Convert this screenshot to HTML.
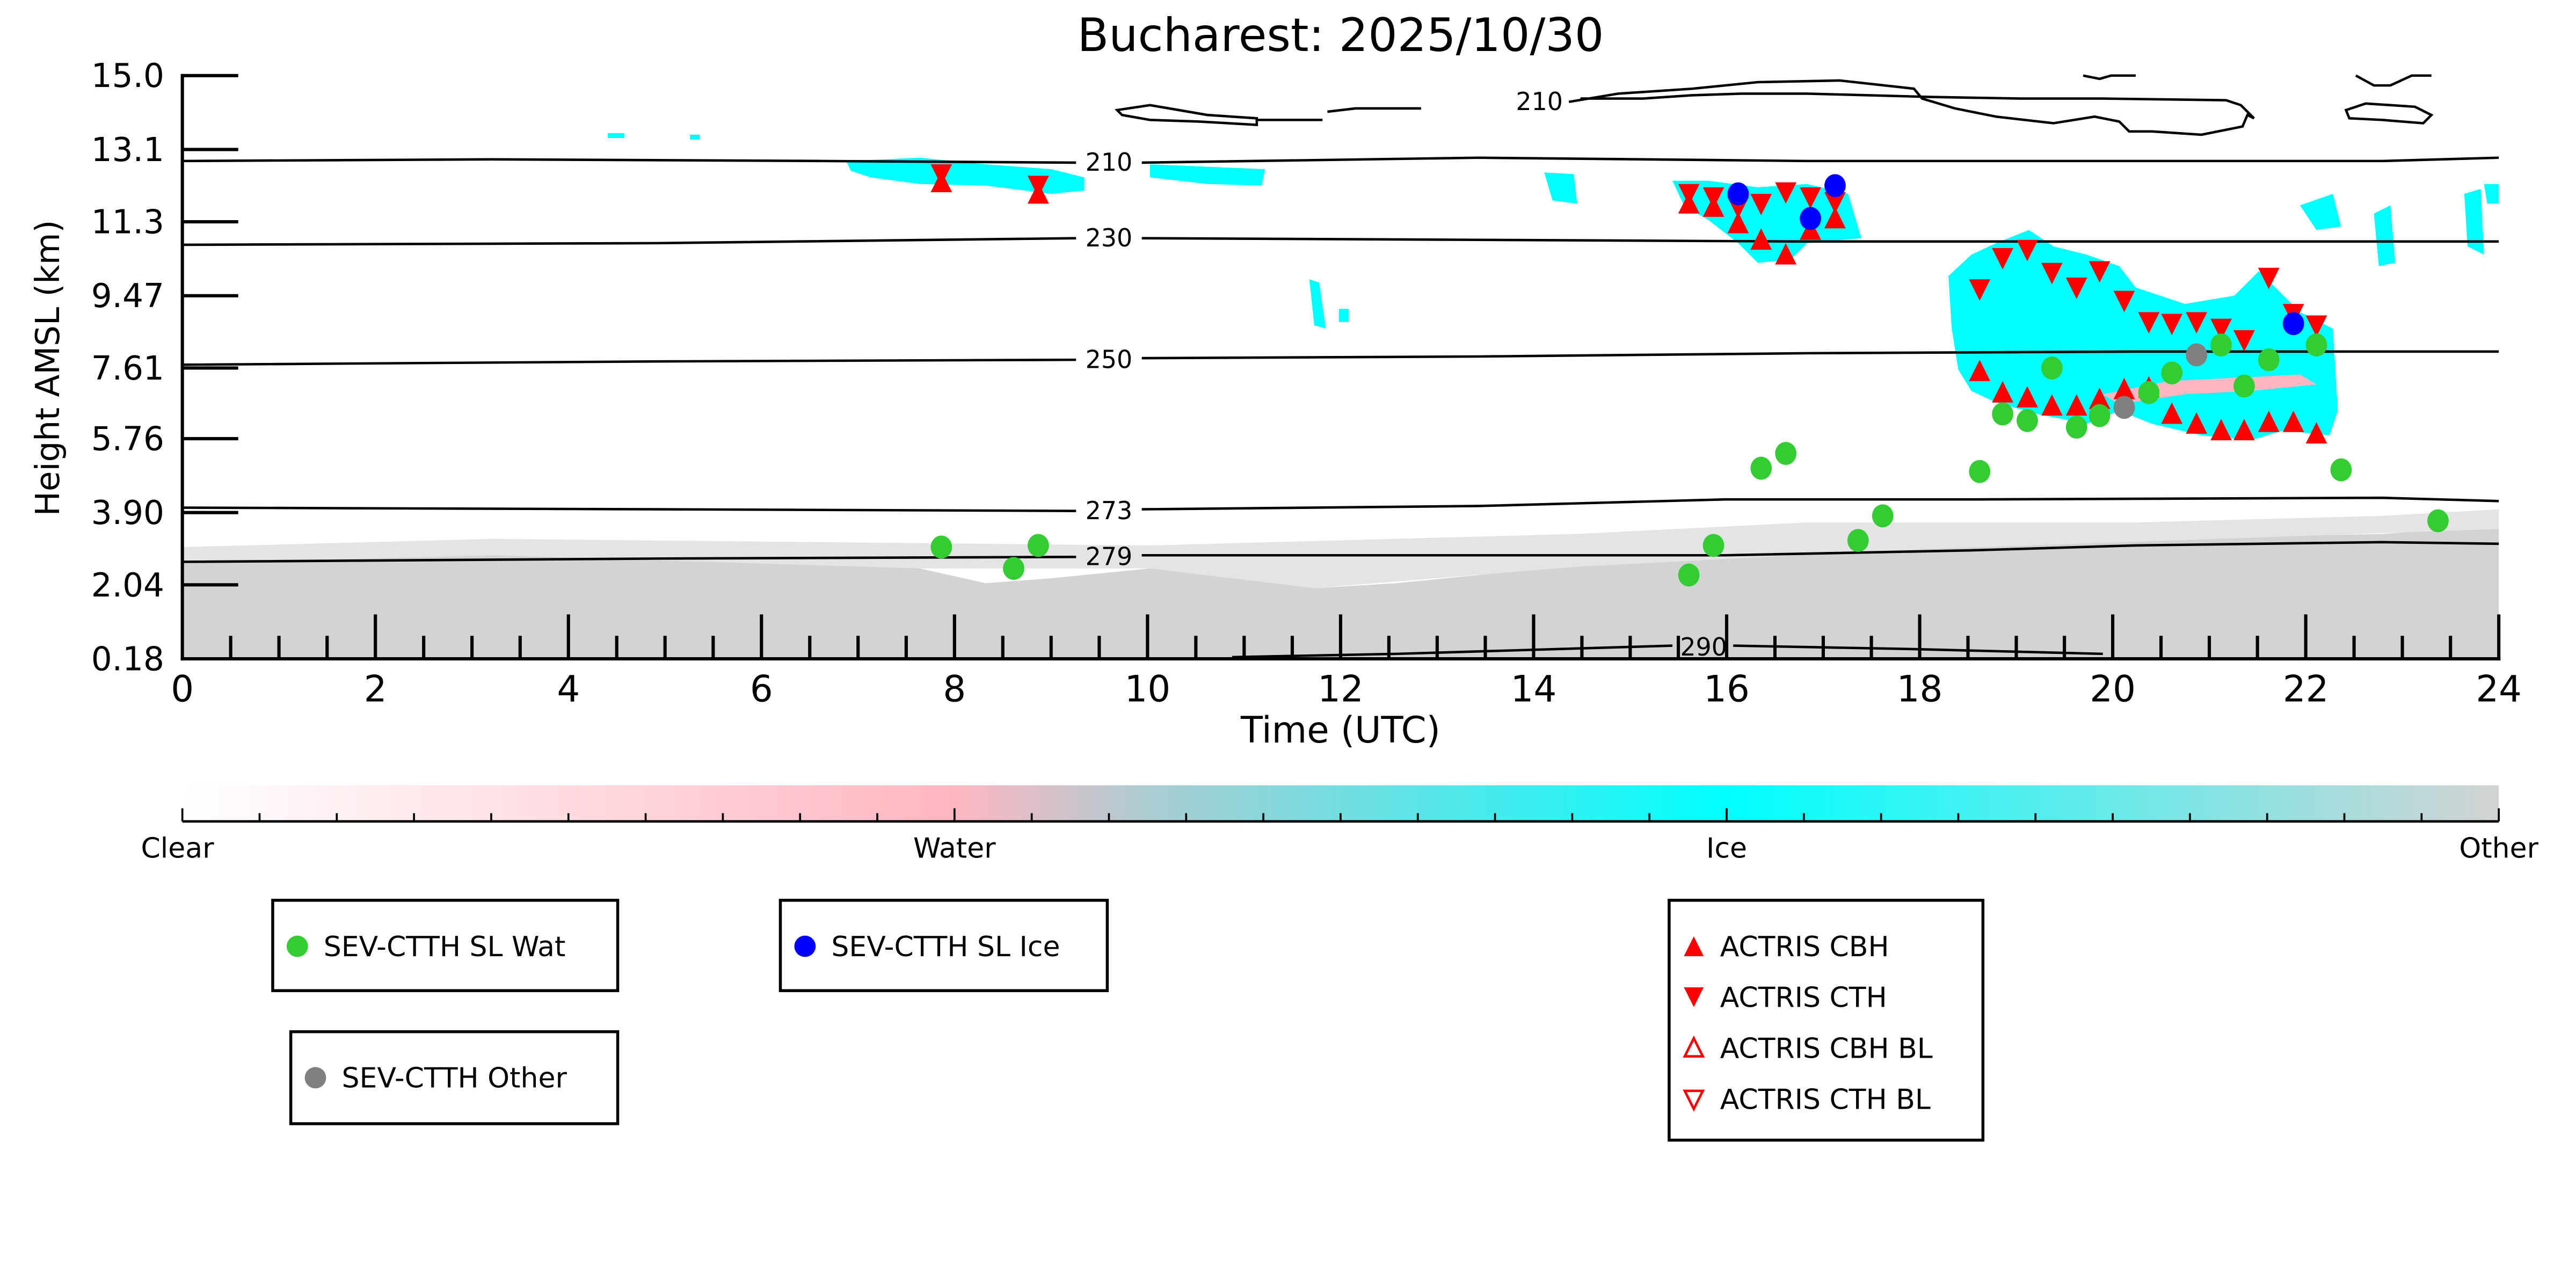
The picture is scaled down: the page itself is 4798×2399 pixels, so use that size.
<!DOCTYPE html>
<html><head><meta charset="utf-8"><style>
html,body{margin:0;padding:0;background:#fff;}
svg{display:block;}
text{font-family:"DejaVu Sans","Liberation Sans",sans-serif;fill:#000;}
</style></head><body>
<svg width="4798" height="2399" viewBox="0 0 1568 784" preserveAspectRatio="none" xmlns="http://www.w3.org/2000/svg">
<defs>
<linearGradient id="cb" x1="0" x2="1" y1="0" y2="0">
<stop offset="0" stop-color="#ffffff"/>
<stop offset="0.333" stop-color="#ffb6c1"/>
<stop offset="0.42" stop-color="#a9cdd2"/>
<stop offset="0.667" stop-color="#00ffff"/>
<stop offset="1" stop-color="#d3d3d3"/>
</linearGradient>
</defs>
<rect width="1568" height="784" fill="#fff"/>
<text x="816" y="31" font-size="28" text-anchor="middle">Bucharest: 2025/10/30</text>

<!-- gray 'other' region -->
<path d="M111,401 L111,343 L200,340 L300,338 L400,339 L500,342 L560,346 L600,355 L640,352 L700,346 L760,352 L800,358 L850,355 L900,350 L960,343 L1000,338 L1060,335 L1150,333 L1250,330 L1350,327 L1450,325 L1521,320 L1521,401 Z" fill="#d3d3d3"/>
<path d="M111,343 L111,333 L300,328 L500,330 L700,332 L960,325 L1100,318 L1300,318 L1450,314 L1521,310 L1521,322 L1350,328 L1150,335 L960,345 L800,358 L700,346 L560,346 L300,338 Z" fill="#e4e4e4"/>

<!-- cyan clouds -->
<g fill="#00ffff">
<path d="M515,98 L560,96 L600,100 L640,103 L660,108 L660,116 L640,118 L600,113 L560,112 L530,108 L518,104Z"/>
<path d="M700,100 L770,103 L768,113 L735,112 L700,108Z"/>
<rect x="370" y="81" width="10" height="3"/><rect x="420" y="82" width="6" height="3"/>
<path d="M940,105 L958,106 L960,124 L945,122Z"/>
<path d="M1018,110 L1040,110 L1070,114 L1100,112 L1125,118 L1133,145 L1100,148 L1090,158 L1070,160 L1058,148 L1040,134 L1025,125Z"/>
<path d="M797,170 L803,172 L807,200 L800,198Z"/><rect x="815" y="188" width="6" height="8"/>
<path d="M1186,168 L1200,155 L1215,148 L1235,140 L1250,150 L1270,155 L1290,162 L1300,175 L1330,185 L1360,180 L1375,165 L1385,175 L1400,190 L1420,200 L1423,250 L1418,265 L1390,262 L1370,268 L1340,265 L1310,258 L1290,250 L1270,258 L1240,252 L1215,245 L1200,238 L1192,225 L1188,200Z"/>
<path d="M1445,130 L1455,125 L1458,160 L1448,162Z"/><path d="M1500,118 L1510,115 L1512,155 L1502,150Z"/>
<path d="M1512,112 L1521,112 L1521,124 L1514,124Z"/>
<path d="M1400,125 L1420,118 L1425,138 L1410,140Z"/>
</g>
<g fill="#ffb6c1">
<path d="M1280,240 L1320,232 L1360,230 L1400,228 L1410,234 L1370,238 L1330,240 L1290,246Z"/>
</g>

<!-- contour lines -->
<g fill="none" stroke="#000" stroke-width="1.5">
<path d="M111,98 L300,97 L500,98 L655,99"/><path d="M695,99 L900,96 L1100,98 L1300,98 L1450,98 L1521,96"/>
<path d="M111,149 L400,148 L655,145"/><path d="M695,145 L900,146 L1100,147 L1300,147 L1521,147"/>
<path d="M111,222 L400,220 L655,219"/><path d="M695,218 L900,217 L1100,215 L1300,214 L1521,214"/>
<path d="M111,309 L400,310 L655,311"/><path d="M695,310 L900,308 L1050,304 L1200,304 L1450,303 L1521,305"/>
<path d="M111,342 L400,340 L655,339"/><path d="M695,338 L900,338 L1050,338 L1200,335 L1300,332 L1450,330 L1521,331"/>
<path d="M750,400 L850,398 L1018,393"/><path d="M1055,393 L1160,395 L1280,398"/>
<!-- top contours -->
<path d="M680,67 L700,64 L735,70 L765,72 L765,76 L730,74 L700,73 L683,70Z"/>
<path d="M765,73 L805,73"/>
<path d="M808,68 L825,66 L865,66"/>
<path d="M955,62 L985,57 L1030,54 L1070,50 L1120,49 L1165,54 L1170,60 L1190,66 L1215,71 L1250,75 L1275,71 L1290,74 L1296,80 L1310,80 L1340,82 L1365,77 L1368,70 L1372,72 L1364,64 L1355,61 L1280,60 L1230,60 L1175,59 L1100,57 L1060,57 L1030,58 L1000,60 L962,60"/>
<path d="M1268,46 L1278,48 L1285,46 L1300,46"/>
<path d="M1434,46 L1445,52 L1455,52 L1468,46 L1480,46"/>
<path d="M1428,67 L1440,63 L1470,65 L1480,70 L1475,75 L1450,73 L1430,72Z"/>
</g>
<g font-size="15" text-anchor="middle">
<text x="675" y="104">210</text><text x="675" y="150">230</text><text x="675" y="224">250</text>
<text x="675" y="316">273</text><text x="675" y="344">279</text><text x="1037" y="399">290</text>
<text x="937" y="67">210</text>
</g>

<!-- axes -->
<g stroke="#000" stroke-width="2">
<line x1="111" y1="45" x2="111" y2="402"/>
<line x1="110" y1="401" x2="1522" y2="401"/>
<line x1="1521" y1="374" x2="1521" y2="402"/>
</g>
<g stroke="#000" stroke-width="2">
<line x1="111" y1="46" x2="145" y2="46"/><line x1="111" y1="91" x2="145" y2="91"/>
<line x1="111" y1="135" x2="145" y2="135"/><line x1="111" y1="180" x2="145" y2="180"/>
<line x1="111" y1="224" x2="145" y2="224"/><line x1="111" y1="267" x2="145" y2="267"/>
<line x1="111" y1="312" x2="145" y2="312"/><line x1="111" y1="356" x2="145" y2="356"/>
</g>
<g font-size="20" text-anchor="end">
<text x="100" y="53">15.0</text><text x="100" y="98">13.1</text><text x="100" y="142">11.3</text>
<text x="100" y="187">9.47</text><text x="100" y="231">7.61</text><text x="100" y="274">5.76</text>
<text x="100" y="319">3.90</text><text x="100" y="363">2.04</text><text x="100" y="408">0.18</text>
</g>
<text transform="translate(36,224) rotate(-90)" font-size="20" text-anchor="middle">Height AMSL (km)</text>
<g stroke="#000" stroke-width="2" id="xt"></g>
<g stroke="#000" stroke-width="2">
<path d="M140.4,401v-14M169.8,401v-14M199.1,401v-14M228.5,401v-27M257.9,401v-14M287.3,401v-14M316.6,401v-14M346,401v-27M375.4,401v-14M404.8,401v-14M434.1,401v-14M463.5,401v-27M492.9,401v-14M522.3,401v-14M551.6,401v-14M581,401v-27M610.4,401v-14M639.8,401v-14M669.1,401v-14M698.5,401v-27M727.9,401v-14M757.3,401v-14M786.6,401v-14M816,401v-27M845.4,401v-14M874.8,401v-14M904.1,401v-14M933.5,401v-27M962.9,401v-14M992.3,401v-14M1021.6,401v-14M1051,401v-27M1080.4,401v-14M1109.8,401v-14M1139.1,401v-14M1168.5,401v-27M1197.9,401v-14M1227.3,401v-14M1256.6,401v-14M1286,401v-27M1315.4,401v-14M1344.8,401v-14M1374.1,401v-14M1403.5,401v-27M1432.9,401v-14M1462.3,401v-14M1491.6,401v-14"/>
</g>
<g font-size="22" text-anchor="middle">
<text x="111" y="427">0</text><text x="228.5" y="427">2</text><text x="346" y="427">4</text><text x="463.5" y="427">6</text>
<text x="581" y="427">8</text><text x="698.5" y="427">10</text><text x="816" y="427">12</text><text x="933.5" y="427">14</text>
<text x="1051" y="427">16</text><text x="1168.5" y="427">18</text><text x="1286" y="427">20</text><text x="1403.5" y="427">22</text><text x="1521" y="427">24</text>
<text x="816" y="452">Time (UTC)</text>
</g>

<!-- markers -->
<defs>
<path id="up" d="M0,-7 L6.5,6 L-6.5,6Z" fill="#ff0000"/>
<path id="dn" d="M0,7 L6.5,-6 L-6.5,-6Z" fill="#ff0000"/>
</defs>
<g>
<use href="#dn" x="573" y="106"/><use href="#up" x="573" y="111"/>
<use href="#dn" x="632" y="113"/><use href="#up" x="632" y="118"/>
<use href="#dn" x="1028" y="118"/><use href="#up" x="1028" y="124"/>
<use href="#dn" x="1043" y="120"/><use href="#up" x="1043" y="126"/>
<use href="#dn" x="1058" y="126"/><use href="#up" x="1058" y="136"/>
<use href="#dn" x="1072" y="124"/><use href="#up" x="1072" y="146"/>
<use href="#dn" x="1087" y="117"/><use href="#up" x="1087" y="155"/>
<use href="#dn" x="1102" y="120"/><use href="#up" x="1102" y="140"/>
<use href="#dn" x="1117" y="123"/><use href="#up" x="1117" y="133"/>
<use href="#dn" x="1205" y="176"/><use href="#dn" x="1219" y="157"/><use href="#dn" x="1234" y="152"/>
<use href="#dn" x="1249" y="166"/><use href="#dn" x="1264" y="175"/><use href="#dn" x="1278" y="165"/>
<use href="#dn" x="1293" y="183"/><use href="#dn" x="1308" y="196"/><use href="#dn" x="1322" y="197"/>
<use href="#dn" x="1337" y="196"/><use href="#dn" x="1352" y="200"/><use href="#dn" x="1366" y="207"/>
<use href="#dn" x="1381" y="169"/><use href="#dn" x="1396" y="191"/><use href="#dn" x="1410" y="198"/>
<use href="#up" x="1205" y="226"/><use href="#up" x="1219" y="239"/><use href="#up" x="1234" y="242"/>
<use href="#up" x="1249" y="247"/><use href="#up" x="1264" y="247"/><use href="#up" x="1278" y="243"/>
<use href="#up" x="1293" y="237"/><use href="#up" x="1308" y="236"/><use href="#up" x="1322" y="252"/>
<use href="#up" x="1337" y="258"/><use href="#up" x="1352" y="262"/><use href="#up" x="1366" y="262"/>
<use href="#up" x="1381" y="257"/><use href="#up" x="1396" y="257"/><use href="#up" x="1410" y="264"/>
</g>
<g fill="#33cc33">
<ellipse cx="573" cy="333" rx="6.5" ry="7"/><ellipse cx="617" cy="346" rx="6.5" ry="7"/><ellipse cx="632" cy="332" rx="6.5" ry="7"/>
<ellipse cx="1028" cy="350" rx="6.5" ry="7"/><ellipse cx="1043" cy="332" rx="6.5" ry="7"/><ellipse cx="1072" cy="285" rx="6.5" ry="7"/>
<ellipse cx="1087" cy="276" rx="6.5" ry="7"/><ellipse cx="1131" cy="329" rx="6.5" ry="7"/><ellipse cx="1146" cy="314" rx="6.5" ry="7"/>
<ellipse cx="1205" cy="287" rx="6.5" ry="7"/><ellipse cx="1219" cy="252" rx="6.5" ry="7"/><ellipse cx="1234" cy="256" rx="6.5" ry="7"/>
<ellipse cx="1249" cy="224" rx="6.5" ry="7"/><ellipse cx="1264" cy="260" rx="6.5" ry="7"/><ellipse cx="1278" cy="253" rx="6.5" ry="7"/>
<ellipse cx="1308" cy="239" rx="6.5" ry="7"/><ellipse cx="1322" cy="227" rx="6.5" ry="7"/><ellipse cx="1352" cy="210" rx="6.5" ry="7"/>
<ellipse cx="1366" cy="235" rx="6.5" ry="7"/><ellipse cx="1381" cy="219" rx="6.5" ry="7"/><ellipse cx="1410" cy="210" rx="6.5" ry="7"/>
<ellipse cx="1425" cy="286" rx="6.5" ry="7"/><ellipse cx="1484" cy="317" rx="6.5" ry="7"/>
</g>
<g fill="#0000ff">
<ellipse cx="1058" cy="118" rx="6.5" ry="7"/><ellipse cx="1102" cy="133" rx="6.5" ry="7"/>
<ellipse cx="1117" cy="113" rx="6.5" ry="7"/><ellipse cx="1396" cy="197" rx="6.5" ry="7"/>
</g>
<g fill="#808080">
<ellipse cx="1293" cy="248" rx="6.5" ry="7"/><ellipse cx="1337" cy="216" rx="6.5" ry="7"/>
</g>

<!-- colorbar -->
<rect x="111" y="478" width="1410" height="22" fill="url(#cb)"/>
<line x1="111" y1="500" x2="1521" y2="500" stroke="#000" stroke-width="1.5"/>
<g stroke="#000" stroke-width="1.2">
<path d="M111,500v-8M158,500v-5M205,500v-5M252,500v-5M299,500v-5M346,500v-5M393,500v-5M440,500v-5M487,500v-5M534,500v-5M581,500v-8M628,500v-5M675,500v-5M722,500v-5M769,500v-5M816,500v-5M863,500v-5M910,500v-5M957,500v-5M1004,500v-5M1051,500v-8M1098,500v-5M1145,500v-5M1192,500v-5M1239,500v-5M1286,500v-5M1333,500v-5M1380,500v-5M1427,500v-5M1474,500v-5M1521,500v-8"/>
</g>
<g font-size="17" text-anchor="middle">
<text x="108" y="522">Clear</text><text x="581" y="522">Water</text><text x="1051" y="522">Ice</text><text x="1521" y="522">Other</text>
</g>

<!-- legends -->
<g fill="none" stroke="#000" stroke-width="1.8">
<rect x="166" y="548" width="210" height="55"/>
<rect x="475" y="548" width="199" height="55"/>
<rect x="177" y="628" width="199" height="56"/>
<rect x="1016" y="548" width="191" height="146"/>
</g>
<circle cx="181" cy="576" r="6.5" fill="#33cc33"/>
<circle cx="490" cy="576" r="6.5" fill="#0000ff"/>
<circle cx="192" cy="656" r="6.5" fill="#808080"/>
<g font-size="17">
<text x="197" y="582">SEV-CTTH SL Wat</text>
<text x="506" y="582">SEV-CTTH SL Ice</text>
<text x="208" y="662">SEV-CTTH Other</text>
<text x="1047" y="582">ACTRIS CBH</text>
<text x="1047" y="613">ACTRIS CTH</text>
<text x="1047" y="644">ACTRIS CBH BL</text>
<text x="1047" y="675">ACTRIS CTH BL</text>
</g>
<path d="M1031,570 L1037,582 L1025,582Z" fill="#ff0000"/>
<path d="M1031,613 L1037,601 L1025,601Z" fill="#ff0000"/>
<path d="M1031,632 L1036.5,643 L1025.5,643Z" fill="none" stroke="#ff0000" stroke-width="1.5"/>
<path d="M1031,675 L1036.5,664 L1025.5,664Z" fill="none" stroke="#ff0000" stroke-width="1.5"/>
</svg>
</body></html>
